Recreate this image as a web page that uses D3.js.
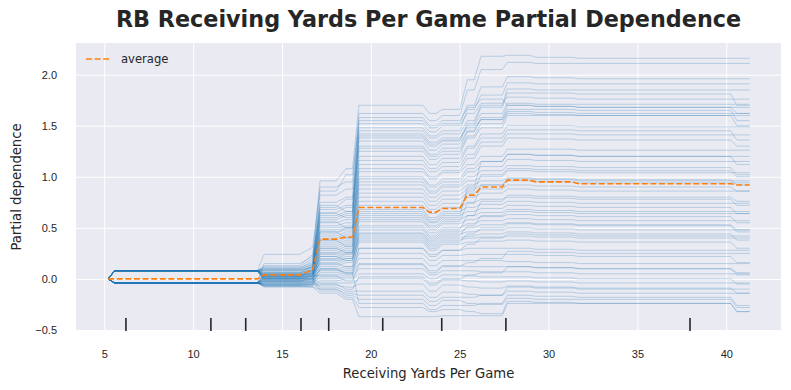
<!DOCTYPE html>
<html>
<head>
<meta charset="utf-8">
<script src="https://cdn.jsdelivr.net/npm/d3@7"></script>
<style>
    body { margin: 0; background: #fff; }
    svg { display: block; font-family: "DejaVu Sans", sans-serif; }
    .grid line { stroke: #fff; stroke-width: 1; }
    .grid path { display: none; }
    .tick text { fill: #262626; font-size: 11px; }
</style>
</head>
<body>
<div id="chart"></div>
<script>
// Grid segments (x in yards/game): each ICE line is flat between start and end
const segStart = [5.58, 13.99, 16.73, 17.14, 18.6, 19.33, 23.3, 24.03, 25.43, 26.2, 27.68, 29.3, 31.7, 40.6];
const segEnd   = [13.62, 16.0, 16.73, 18.05, 18.97, 22.93, 23.67, 25.0, 25.82, 27.4, 28.93, 31.33, 40.25, 41.32];
const gridFirst = 5.22;

// Centered ICE curves, one level per segment
const iceLines = [
    [0.08, 0.13, 0.24, 0.96, 1.08, 1.70, 1.62, 1.66, 1.95, 2.18, 2.19, 2.17, 2.16, 2.16],
    [0.08, 0.10, 0.18, 0.90, 0.95, 1.62, 1.55, 1.60, 1.85, 2.05, 2.12, 2.11, 2.11, 2.11],
    [-0.04, 0.05, 0.12, 0.82, 0.88, 1.55, 1.48, 1.52, 1.70, 1.88, 1.98, 1.97, 1.96, 1.96],
    [0.08, 0.09, 0.15, 0.75, 0.80, 1.48, 1.40, 1.45, 1.66, 1.80, 1.92, 1.91, 1.91, 1.91],
    [-0.04, 0.02, 0.10, 0.70, 0.78, 1.45, 1.38, 1.42, 1.55, 1.70, 1.86, 1.85, 1.85, 1.85],
    [0.08, 0.11, 0.16, 0.68, 0.72, 1.40, 1.32, 1.36, 1.52, 1.68, 1.82, 1.82, 1.81, 1.70],
    [-0.04, 0.04, 0.09, 0.65, 0.70, 1.38, 1.30, 1.35, 1.50, 1.62, 1.72, 1.71, 1.71, 1.71],
    [0.08, 0.10, 0.14, 0.62, 0.66, 1.35, 1.26, 1.32, 1.45, 1.58, 1.70, 1.69, 1.68, 1.68],
    [-0.04, 0.03, 0.08, 0.60, 0.64, 1.30, 1.22, 1.28, 1.44, 1.56, 1.66, 1.66, 1.65, 1.55],
    [0.08, 0.09, 0.12, 0.58, 0.62, 1.28, 1.20, 1.25, 1.40, 1.52, 1.64, 1.63, 1.62, 1.62],
    [-0.04, 0.02, 0.07, 0.55, 0.58, 1.25, 1.17, 1.22, 1.38, 1.48, 1.60, 1.60, 1.60, 1.50],
    [0.08, 0.08, 0.12, 0.52, 0.55, 1.20, 1.12, 1.18, 1.30, 1.42, 1.50, 1.50, 1.49, 1.49],
    [-0.04, 0.01, 0.06, 0.50, 0.52, 1.16, 1.08, 1.14, 1.28, 1.38, 1.46, 1.46, 1.45, 1.36],
    [0.08, 0.07, 0.11, 0.48, 0.50, 1.12, 1.05, 1.10, 1.22, 1.34, 1.42, 1.42, 1.41, 1.41],
    [-0.04, 0.00, 0.05, 0.46, 0.48, 1.08, 1.00, 1.06, 1.18, 1.30, 1.38, 1.37, 1.36, 1.30],
    [0.08, 0.06, 0.10, 0.44, 0.50, 1.05, 0.98, 1.04, 1.12, 1.20, 1.27, 1.27, 1.26, 1.26],
    [-0.04, 0.00, 0.04, 0.42, 0.46, 1.00, 0.92, 0.98, 1.08, 1.15, 1.22, 1.21, 1.20, 1.12],
    [0.08, 0.06, 0.09, 0.40, 0.44, 0.98, 0.90, 0.95, 1.05, 1.10, 1.17, 1.16, 1.15, 1.15],
    [-0.04, -0.01, 0.03, 0.38, 0.42, 0.95, 0.86, 0.92, 1.00, 1.06, 1.11, 1.10, 1.09, 1.02],
    [0.08, 0.05, 0.08, 0.36, 0.40, 0.92, 0.84, 0.90, 0.96, 1.00, 1.06, 1.05, 1.04, 1.04],
    [-0.04, -0.02, 0.02, 0.34, 0.38, 0.88, 0.80, 0.86, 0.92, 0.96, 0.99, 0.98, 0.97, 0.92],
    [0.08, 0.04, 0.07, 0.32, 0.36, 0.84, 0.76, 0.82, 0.88, 0.92, 0.96, 0.95, 0.94, 0.94],
    [-0.04, -0.02, 0.01, 0.30, 0.34, 0.80, 0.72, 0.78, 0.84, 0.88, 0.92, 0.91, 0.90, 0.86],
    [0.08, 0.04, 0.06, 0.28, 0.32, 0.76, 0.68, 0.74, 0.80, 0.84, 0.88, 0.87, 0.86, 0.86],
    [-0.04, -0.03, 0.00, 0.26, 0.30, 0.72, 0.64, 0.70, 0.75, 0.78, 0.80, 0.79, 0.78, 0.72],
    [0.08, 0.03, 0.05, 0.25, 0.28, 0.68, 0.60, 0.66, 0.70, 0.73, 0.76, 0.75, 0.74, 0.74],
    [-0.04, -0.03, -0.01, 0.24, 0.26, 0.64, 0.56, 0.62, 0.66, 0.69, 0.72, 0.71, 0.70, 0.64],
    [0.08, 0.03, 0.05, 0.22, 0.25, 0.60, 0.52, 0.58, 0.62, 0.65, 0.68, 0.67, 0.66, 0.66],
    [-0.04, -0.04, -0.02, 0.20, 0.24, 0.56, 0.48, 0.54, 0.58, 0.61, 0.63, 0.62, 0.61, 0.55],
    [0.08, 0.02, 0.04, 0.19, 0.22, 0.52, 0.45, 0.50, 0.54, 0.57, 0.59, 0.58, 0.57, 0.57],
    [-0.04, -0.04, -0.03, 0.18, 0.20, 0.48, 0.40, 0.46, 0.50, 0.53, 0.55, 0.54, 0.53, 0.48],
    [0.08, 0.02, 0.03, 0.16, 0.20, 0.45, 0.38, 0.44, 0.46, 0.48, 0.50, 0.49, 0.48, 0.48],
    [-0.04, -0.05, -0.03, 0.14, 0.18, 0.42, 0.34, 0.40, 0.42, 0.44, 0.46, 0.45, 0.44, 0.38],
    [0.08, 0.01, 0.03, 0.12, 0.16, 0.40, 0.32, 0.38, 0.40, 0.41, 0.42, 0.41, 0.40, 0.40],
    [-0.04, -0.05, -0.04, 0.10, 0.12, 0.36, 0.28, 0.34, 0.36, 0.37, 0.38, 0.37, 0.36, 0.30],
    [0.08, 0.01, 0.02, 0.08, 0.10, 0.30, 0.24, 0.28, 0.30, 0.30, 0.30, 0.29, 0.28, 0.28],
    [-0.04, -0.06, -0.05, 0.06, 0.08, 0.25, 0.18, 0.23, 0.24, 0.24, 0.24, 0.23, 0.22, 0.16],
    [0.08, 0.00, 0.01, 0.04, 0.06, 0.20, 0.13, 0.18, 0.18, 0.18, 0.17, 0.16, 0.15, 0.15],
    [-0.04, -0.06, -0.05, 0.02, 0.04, 0.15, 0.08, 0.13, 0.12, 0.12, 0.12, 0.11, 0.10, 0.06],
    [0.08, 0.00, 0.00, 0.00, 0.02, 0.10, 0.04, 0.08, 0.08, 0.07, 0.07, 0.06, 0.05, 0.05],
    [-0.04, -0.07, -0.06, -0.02, 0.00, 0.05, 0.00, 0.04, 0.03, 0.02, 0.02, 0.01, 0.00, -0.05],
    [0.08, -0.01, 0.00, -0.04, -0.04, 0.00, -0.06, -0.01, -0.02, -0.03, -0.02, -0.03, -0.04, -0.04],
    [-0.04, -0.07, -0.07, -0.06, -0.08, -0.05, -0.12, -0.06, -0.08, -0.09, -0.07, -0.08, -0.09, -0.14],
    [0.08, -0.02, -0.02, -0.08, -0.12, -0.12, -0.18, -0.13, -0.15, -0.16, -0.12, -0.13, -0.14, -0.14],
    [-0.04, -0.07, -0.08, -0.10, -0.16, -0.20, -0.26, -0.21, -0.24, -0.25, -0.19, -0.20, -0.20, -0.28],
    [0.08, -0.03, -0.03, -0.12, -0.18, -0.28, -0.32, -0.30, -0.32, -0.34, -0.22, -0.23, -0.24, -0.32],
    [-0.04, -0.08, -0.08, -0.14, -0.20, -0.37, -0.37, -0.36, -0.36, -0.36, -0.24, -0.24, -0.24, -0.32],
    [0.08, 0.24, 0.31, 0.86, 1.02, 1.52, 1.44, 1.50, 1.62, 1.72, 1.78, 1.77, 1.76, 1.76],
    [-0.04, 0.15, 0.22, 0.72, 0.66, 1.58, 1.50, 1.55, 1.68, 1.76, 1.70, 1.69, 1.68, 1.62],
    [0.08, 0.12, 0.20, 0.64, 0.60, 1.42, 1.34, 1.38, 1.48, 1.56, 1.62, 1.61, 1.60, 1.60],
    [-0.04, 0.06, 0.14, 0.56, 0.50, 0.62, 0.55, 0.60, 0.90, 1.15, 1.22, 1.21, 1.20, 1.20],
    [0.08, 0.08, 0.12, 0.46, 0.40, 0.66, 0.58, 0.64, 0.86, 1.02, 1.08, 1.07, 1.06, 1.00],
    [-0.04, 0.03, 0.06, 0.38, 0.32, 0.58, 0.50, 0.56, 0.74, 0.92, 0.98, 0.97, 0.96, 0.96],
    [0.08, 0.05, 0.08, 0.30, 0.26, 0.50, 0.42, 0.48, 0.62, 0.76, 0.82, 0.81, 0.80, 0.76],
    [-0.04, 0.00, 0.03, 0.22, 0.18, 0.44, 0.36, 0.42, 0.52, 0.62, 0.66, 0.65, 0.64, 0.64],
    [0.08, 0.04, 0.05, 0.15, 0.12, 0.38, 0.30, 0.36, 0.44, 0.50, 0.54, 0.53, 0.52, 0.46],
    [-0.04, -0.02, 0.00, 0.09, 0.05, 0.30, 0.22, 0.28, 0.34, 0.40, 0.44, 0.43, 0.42, 0.42],
    [0.08, 0.02, 0.03, 0.03, -0.02, 0.14, 0.06, 0.12, 0.16, 0.20, 0.27, 0.26, 0.25, 0.25],
    [-0.04, -0.05, -0.05, -0.05, -0.10, 0.02, -0.04, 0.00, 0.04, 0.06, 0.12, 0.11, 0.10, 0.04],
    [0.08, 0.00, 0.00, -0.10, -0.14, -0.16, -0.22, -0.18, -0.18, -0.16, -0.08, -0.09, -0.10, -0.10],
    [-0.04, -0.06, -0.06, 0.10, 0.06, -0.24, -0.30, -0.26, -0.26, -0.24, -0.16, -0.17, -0.18, -0.26]
];

// Average (partial dependence) per segment
const avgLevels = [0.0, 0.04, 0.09, 0.39, 0.41, 0.70, 0.654, 0.69, 0.82, 0.90, 0.967, 0.95, 0.932, 0.92];

// Deciles of the feature (rug marks)
const deciles = [6.22, 11.0, 12.96, 16.07, 17.63, 20.67, 23.99, 27.6, 37.96];

const xTicks = [5, 10, 15, 20, 25, 30, 35, 40];
const yTicks = [-0.5, 0.0, 0.5, 1.0, 1.5, 2.0];

const width = 791;
const height = 390;
const margin = {top: 43, right: 10, bottom: 59, left: 76};
const innerW = width - margin.left - margin.right;
const innerH = height - margin.top - margin.bottom;

const svg = d3.select("#chart")
    .append("svg")
    .attr("width", width)
    .attr("height", height);

const x = d3.scaleLinear().domain([3.41, 43.08]).range([0, innerW]);
const y = d3.scaleLinear().domain([-0.51, 2.31]).range([innerH, 0]);

const g = svg.append("g")
    .attr("transform", `translate(${margin.left},${margin.top})`);

g.append("rect")
    .attr("width", innerW)
    .attr("height", innerH)
    .attr("fill", "#eaeaf2");

// Gitter
g.append("g")
    .attr("class", "grid")
    .attr("transform", `translate(0,${innerH})`)
    .call(d3.axisBottom(x).tickValues(xTicks).tickSize(-innerH).tickFormat(""));

g.append("g")
    .attr("class", "grid")
    .call(d3.axisLeft(y).tickValues(yTicks).tickSize(-innerW).tickFormat(""));

// Tick labels
const xAxis = g.append("g")
    .attr("transform", `translate(0,${innerH})`)
    .call(d3.axisBottom(x).tickValues(xTicks).tickSize(0).tickPadding(19).tickFormat(d3.format("d")));
xAxis.select(".domain").remove();

const yAxis = g.append("g")
    .call(d3.axisLeft(y).tickValues(yTicks).tickSize(0).tickPadding(19).tickFormat(d3.format(".1f")));
yAxis.select(".domain").remove();

function toPoints(levels) {
    const pts = [[gridFirst, 0]];
    levels.forEach((v, i) => {
        pts.push([segStart[i], v]);
        pts.push([segEnd[i], v]);
    });
    return pts;
}

const line = d3.line()
    .x(d => x(d[0]))
    .y(d => y(d[1]));

const plot = g.append("g");

plot.selectAll("path.ice")
    .data(iceLines)
    .join("path")
    .attr("class", "ice")
    .attr("d", d => line(toPoints(d)))
    .attr("fill", "none")
    .attr("stroke", "#1f77b4")
    .attr("stroke-opacity", 0.32)
    .attr("stroke-width", 0.8);

plot.append("path")
    .attr("d", line(toPoints(avgLevels)))
    .attr("fill", "none")
    .attr("stroke", "#ff7f0e")
    .attr("stroke-width", 1.6)
    .attr("stroke-dasharray", "6,2.6");

// Rug
g.append("g")
    .selectAll("line")
    .data(deciles)
    .join("line")
    .attr("x1", d => x(d))
    .attr("x2", d => x(d))
    .attr("y1", innerH)
    .attr("y2", innerH - 13)
    .attr("stroke", "#262626")
    .attr("stroke-width", 1.6);

// Legende
const legend = g.append("g").attr("transform", "translate(10,16)");
legend.append("line")
    .attr("x1", 0).attr("x2", 24)
    .attr("stroke", "#ff7f0e")
    .attr("stroke-width", 1.6)
    .attr("stroke-dasharray", "6,2.6");
legend.append("text")
    .attr("x", 35)
    .attr("dy", "0.35em")
    .attr("fill", "#262626")
    .style("font-size", "11.6px")
    .text("average");

// Beschriftungen
svg.append("text")
    .attr("x", margin.left + innerW / 2)
    .attr("y", 373)
    .attr("text-anchor", "middle")
    .attr("dy", "0.35em")
    .attr("fill", "#262626")
    .style("font-size", "13.2px")
    .text("Receiving Yards Per Game");

svg.append("text")
    .attr("transform", `translate(16,${margin.top + innerH / 2}) rotate(-90)`)
    .attr("text-anchor", "middle")
    .attr("dy", "0.35em")
    .attr("fill", "#262626")
    .style("font-size", "13.2px")
    .text("Partial dependence");

svg.append("text")
    .attr("x", margin.left + innerW / 2)
    .attr("y", 19)
    .attr("text-anchor", "middle")
    .attr("dy", "0.35em")
    .attr("fill", "#262626")
    .style("font-size", "22.3px")
    .style("font-weight", "bold")
    .text("RB Receiving Yards Per Game Partial Dependence");
</script>
</body>
</html>
